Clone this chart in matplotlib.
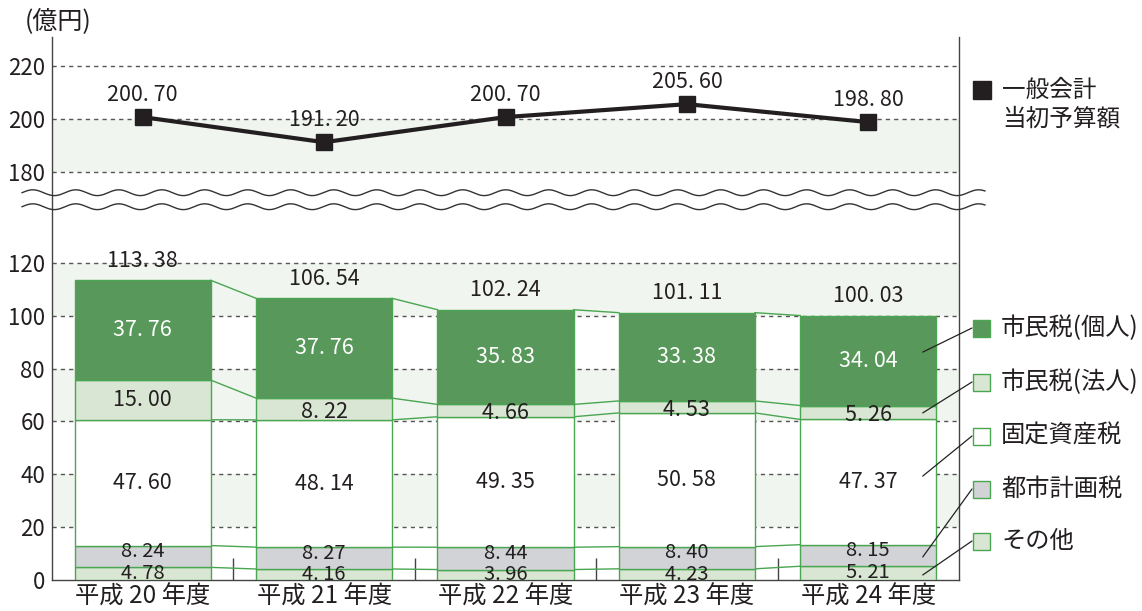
import numpy as np
import matplotlib
matplotlib.use("Agg")
import matplotlib.pyplot as plt
from matplotlib.patches import Rectangle

plt.rcParams['font.family'] = ['Noto Sans CJK JP', 'DejaVu Sans']

# ---------------- data ----------------
years = ["平成 20 年度", "平成 21 年度", "平成 22 年度", "平成 23 年度", "平成 24 年度"]
sonota = [4.78, 4.16, 3.96, 4.23, 5.21]          # その他
toshikeikaku = [8.24, 8.27, 8.44, 8.40, 8.15]   # 都市計画税
kotei = [47.60, 48.14, 49.35, 50.58, 47.37]     # 固定資産税
hojin = [15.00, 8.22, 4.66, 4.53, 5.26]         # 市民税(法人)
kojin = [37.76, 37.76, 35.83, 33.38, 34.04]     # 市民税(個人)
totals = [113.38, 106.54, 102.24, 101.11, 100.03]
general = [200.70, 191.20, 200.70, 205.60, 198.80]  # 一般会計当初予算額

series_names = ["市民税(個人)", "市民税(法人)", "固定資産税", "都市計画税", "その他"]
lower_ticks = [0, 20, 40, 60, 80, 100, 120]
upper_ticks = [180, 200, 220]

# ---------------- style ----------------
W, H = 1142, 611
DARK = "#58985a"
LIGHT = "#d9e6d3"
GREY = "#d2d3d6"
WHITE = "#ffffff"
EDGE = "#4aa650"
BAND = "#f0f5f0"
TXT = "#231f20"
colors = [LIGHT, GREY, WHITE, LIGHT, DARK]

UPPER_SHIFT = 25.6  # upper section (>=180) is drawn shifted down by this amount


def ymap(v):
    v = np.asarray(v, dtype=float)
    return np.where(v >= 150, v - UPPER_SHIFT, v)


fig = plt.figure(figsize=(W / 100, H / 100), dpi=100)
ax = fig.add_axes([52 / W, 31 / H, (959 - 52) / W, (580 - 37) / H])
ax.set_xlim(-0.5, 4.5)
ax.set_ylim(0, 205.4)

x = np.arange(len(years))
bw = 0.75

# background bands
for lo, hi in [(20, 40), (60, 80), (100, 120), (180, 200)]:
    ax.axhspan(float(ymap(lo)), float(ymap(hi)), color=BAND, zorder=0, lw=0)

# dashed grid
for t in lower_ticks[1:] + upper_ticks:
    ax.axhline(float(ymap(t)), color="#555555", lw=1.0, ls=(0, (3, 3)), zorder=1)

# stacked bars
stack = [sonota, toshikeikaku, kotei, hojin, kojin]
bottom = np.zeros(len(years))
tops = []
for vals, c in zip(stack, colors):
    vals = np.array(vals)
    ax.bar(x, vals, bw, bottom=bottom, color=c, edgecolor=EDGE, lw=1.0, zorder=3)
    bottom = bottom + vals
    tops.append(bottom.copy())

# connectors between bars
for tp in tops:
    for i in range(len(years) - 1):
        ax.plot([x[i] + bw / 2, x[i + 1] - bw / 2], [tp[i], tp[i + 1]],
                color=EDGE, lw=1.0, zorder=2)


def fmt(v):
    return f"{v:.2f}".replace(".", ". ")


LBL = 15.5
bottom = np.zeros(len(years))
for k, vals in enumerate(stack):
    for i, v in enumerate(vals):
        yc = bottom[i] + v / 2
        fs = LBL
        if k == 0:
            yc = bottom[i] + v / 2 + 0.1
            fs = 14.5
        if k == 1:
            yc = bottom[i] + v / 2 + 1.8
            fs = 14.5
        if k == 3 and v < 10:
            yc = bottom[i] + v / 2 - 1.0
        col = "white" if k == 4 else TXT
        ax.text(x[i], yc, fmt(v), ha="center", va="center", fontsize=fs,
                color=col, zorder=6)
    bottom = bottom + np.array(vals)

for i, t in enumerate(totals):
    ax.text(x[i], bottom[i] + 7.3, fmt(t), ha="center", va="center",
            fontsize=LBL, color=TXT, zorder=6)

# line series
gy = ymap(general)
ax.plot(x, gy, color=TXT, lw=3, zorder=7, marker="s", ms=11, mfc=TXT, mec=TXT)
for i, v in enumerate(general):
    ax.text(x[i], gy[i] + 8.5, fmt(v), ha="center", va="center", fontsize=LBL,
            color=TXT, zorder=8)

# axes decoration
yt = list(ymap(lower_ticks)) + list(ymap(upper_ticks))
ax.set_yticks(yt)
ax.set_yticklabels([str(t) for t in lower_ticks + upper_ticks], fontsize=16, color=TXT)
ax.tick_params(axis="y", length=0, pad=5)
ax.set_xticks(x)
ax.set_xticklabels(years, fontsize=17.5, color=TXT)
ax.tick_params(axis="x", length=0, pad=3)
ax.set_xticks(x[:-1] + 0.5, minor=True)
ax.tick_params(axis="x", which="minor", direction="in", length=15.5, width=1.0,
               color="#444444")
ax.spines["top"].set_visible(False)
for s in ["left", "right", "bottom"]:
    ax.spines[s].set_color("#444444")
    ax.spines[s].set_linewidth(1.0)

# wavy break marks
xs = np.linspace(-0.665, 4.643, 800)
for yb in [146.5, 141.2]:
    ax.plot(xs, yb + 1.1 * np.sin(2 * np.pi * (xs + 0.665) / 0.237), color="#333333",
            lw=1.0, zorder=9, clip_on=False)

# unit label
fig.text(25 / W, 1 - 22 / H, "(億円)", fontsize=18, color=TXT, ha="left", va="center")


def fpt(px, py):
    return (px / W, 1 - py / H)


# general budget legend
fig.patches.append(Rectangle(fpt(973, 99), 18 / W, 18 / H, transform=fig.transFigure,
                             facecolor=TXT, edgecolor=TXT, lw=1))
fig.text(*fpt(1002, 90), "一般会計", fontsize=17, color=TXT, ha="left", va="center")
fig.text(*fpt(1002, 119), "当初予算額", fontsize=17, color=TXT, ha="left", va="center")

leg_colors = [DARK, LIGHT, WHITE, GREY, LIGHT]
leg_y = [328, 382, 436, 489, 541]
leader_y = [86.2, 63.2, 39.3, 8.7, 1.9]
for name, c, py, ty in zip(series_names, leg_colors, leg_y, leader_y):
    fig.patches.append(Rectangle(fpt(973, py + 8.5), 17 / W, 17 / H, transform=fig.transFigure,
                                 facecolor=c, edgecolor=EDGE, lw=1))
    fig.text(*fpt(1001, py), name, fontsize=17.5, color=TXT, ha="left", va="center")
    ax.annotate("", xy=fpt(972, py), xycoords="figure fraction",
                xytext=(4.30, ty), textcoords="data",
                arrowprops=dict(arrowstyle="-", color="#222222", lw=0.9,
                                shrinkA=0, shrinkB=0), zorder=10, annotation_clip=False)

fig.savefig("out.png", dpi=100)
